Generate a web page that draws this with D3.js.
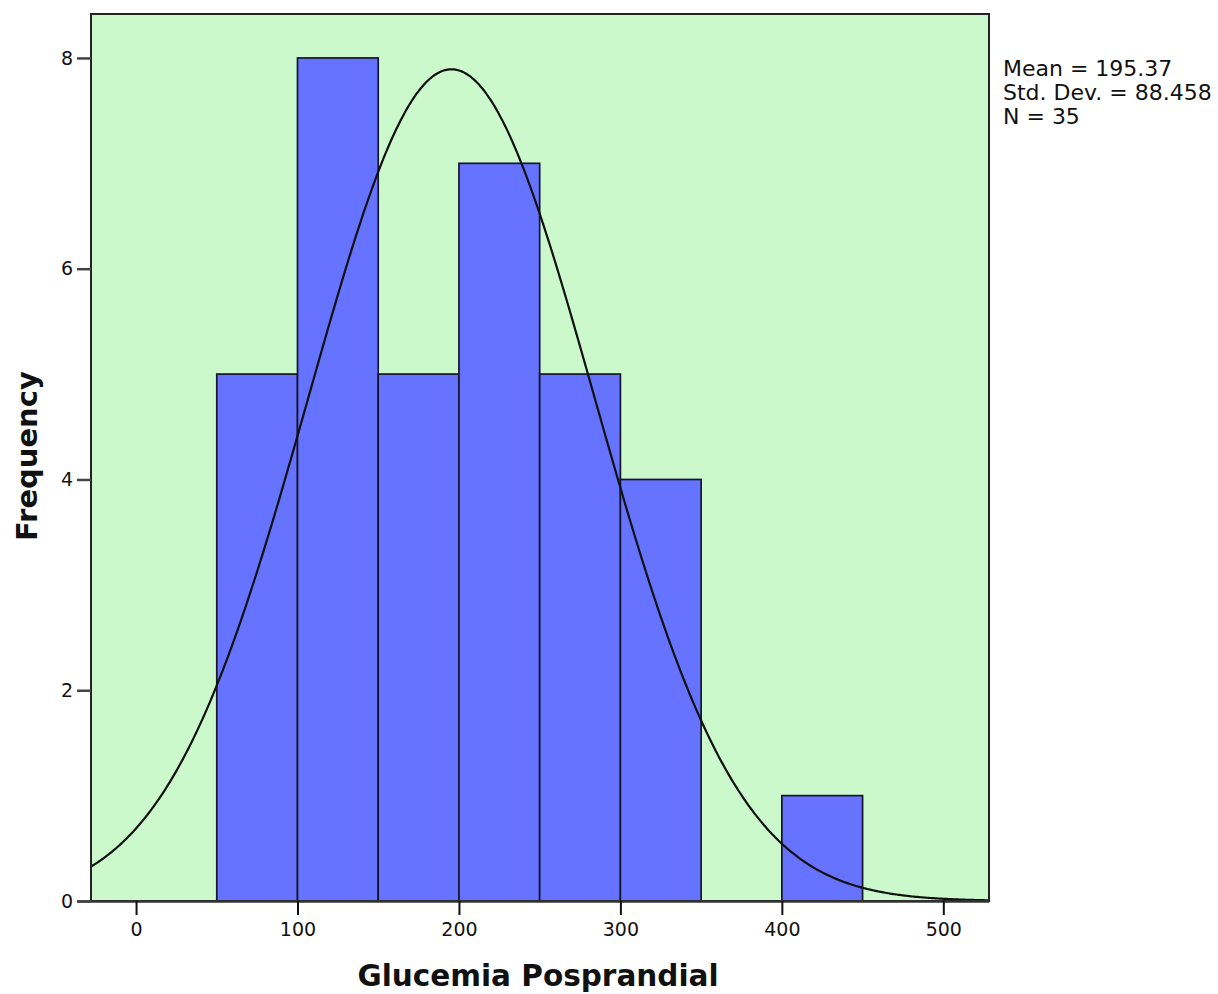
<!DOCTYPE html>
<html>
<head>
<meta charset="utf-8">
<script src="https://cdn.jsdelivr.net/npm/d3@7"></script>
<style>
  html, body { margin: 0; padding: 0; background: #ffffff; }
  svg { display: block; }
  text { font-family: "DejaVu Sans", sans-serif; fill: #111; }
</style>
</head>
<body>
<svg id="chart" width="1218" height="994"></svg>
<script>
// Histogram of post-prandial glucose: bin edges and counts
const binStarts = [50, 100, 150, 200, 250, 300, 400];
const binEnds   = [100, 150, 200, 250, 300, 350, 450];
const counts    = [5, 8, 5, 7, 5, 4, 1];

const xTicks = [0, 100, 200, 300, 400, 500];
const yTicks = [0, 2, 4, 6, 8];

const mean = 195.37;
const stdDev = 88.458;
const n = 35;
const binWidth = 50;
const statsLines = ["Mean = 195.37", "Std. Dev. = 88.458", "N = 35"];

const svg = d3.select("#chart");
const plot = { left: 91, top: 14, right: 989, bottom: 901 };

const x = d3.scaleLinear().domain([-27.9, 528.3]).range([plot.left, plot.right]);
const y = d3.scaleLinear().domain([0, 8.417]).range([plot.bottom, plot.top]);

// plot background
svg.append("rect")
  .attr("x", plot.left).attr("y", plot.top)
  .attr("width", plot.right - plot.left).attr("height", plot.bottom - plot.top)
  .attr("fill", "#ccf9cc");

svg.append("clipPath").attr("id", "clip")
  .append("rect")
  .attr("x", plot.left).attr("y", plot.top)
  .attr("width", plot.right - plot.left).attr("height", plot.bottom - plot.top);

// bars
const bins = counts.map((c, i) => ({ x0: binStarts[i], x1: binEnds[i], count: c }));
svg.append("g").selectAll("rect").data(bins).join("rect")
  .attr("x", d => x(d.x0))
  .attr("y", d => y(d.count))
  .attr("width", d => x(d.x1) - x(d.x0))
  .attr("height", d => y(0) - y(d.count))
  .attr("fill", "#6673ff")
  .attr("stroke", "#15152a")
  .attr("stroke-width", 1.7);

// fitted normal curve scaled to counts
const pdf = v => Math.exp(-0.5 * ((v - mean) / stdDev) ** 2) / (stdDev * Math.sqrt(2 * Math.PI));
const curvePts = d3.range(-28, 529, 1).map(v => [v, n * binWidth * pdf(v)]);
svg.append("path")
  .datum(curvePts)
  .attr("clip-path", "url(#clip)")
  .attr("fill", "none")
  .attr("stroke", "#111")
  .attr("stroke-width", 2.2)
  .attr("d", d3.line().x(d => x(d[0])).y(d => y(d[1])).curve(d3.curveBasis));

// frame
svg.append("rect")
  .attr("x", plot.left).attr("y", plot.top)
  .attr("width", plot.right - plot.left).attr("height", plot.bottom - plot.top)
  .attr("fill", "none").attr("stroke", "#222").attr("stroke-width", 2);

// x axis
const xAxis = d3.axisBottom(x).tickValues(xTicks).tickSize(14).tickPadding(8).tickSizeOuter(0);
const gx = svg.append("g").attr("transform", `translate(0,${plot.bottom})`).call(xAxis);
gx.select(".domain").attr("stroke", "#333").attr("stroke-width", 2.5)
  .attr("d", `M${plot.left - 14},0.5H${plot.right}`);
gx.selectAll(".tick line").attr("stroke", "#111").attr("stroke-width", 2);
gx.selectAll(".tick text").style("font-family", "DejaVu Sans, sans-serif")
  .style("font-size", "19px").attr("fill", "#111");

// y axis
const yAxis = d3.axisLeft(y).tickValues(yTicks).tickSize(14).tickPadding(4).tickFormat(d3.format("d")).tickSizeOuter(0);
const gy = svg.append("g").attr("transform", `translate(${plot.left},0)`).call(yAxis);
gy.select(".domain").remove();
gy.selectAll(".tick line").attr("stroke", "#444").attr("stroke-width", 2.5);
gy.selectAll(".tick text").style("font-family", "DejaVu Sans, sans-serif")
  .style("font-size", "19px").attr("fill", "#111");

// axis titles
svg.append("text")
  .attr("x", 538).attr("y", 986)
  .attr("text-anchor", "middle")
  .style("font-weight", "bold").style("font-size", "29.5px")
  .text("Glucemia Posprandial");

svg.append("text")
  .attr("transform", "translate(37,456) rotate(-90)")
  .attr("text-anchor", "middle")
  .style("font-weight", "bold").style("font-size", "29px")
  .text("Frequency");

// summary statistics
svg.append("g").selectAll("text").data(statsLines).join("text")
  .attr("x", 1003)
  .attr("y", (d, i) => 76 + i * 24)
  .style("font-size", "22px")
  .text(d => d);
</script>
</body>
</html>
